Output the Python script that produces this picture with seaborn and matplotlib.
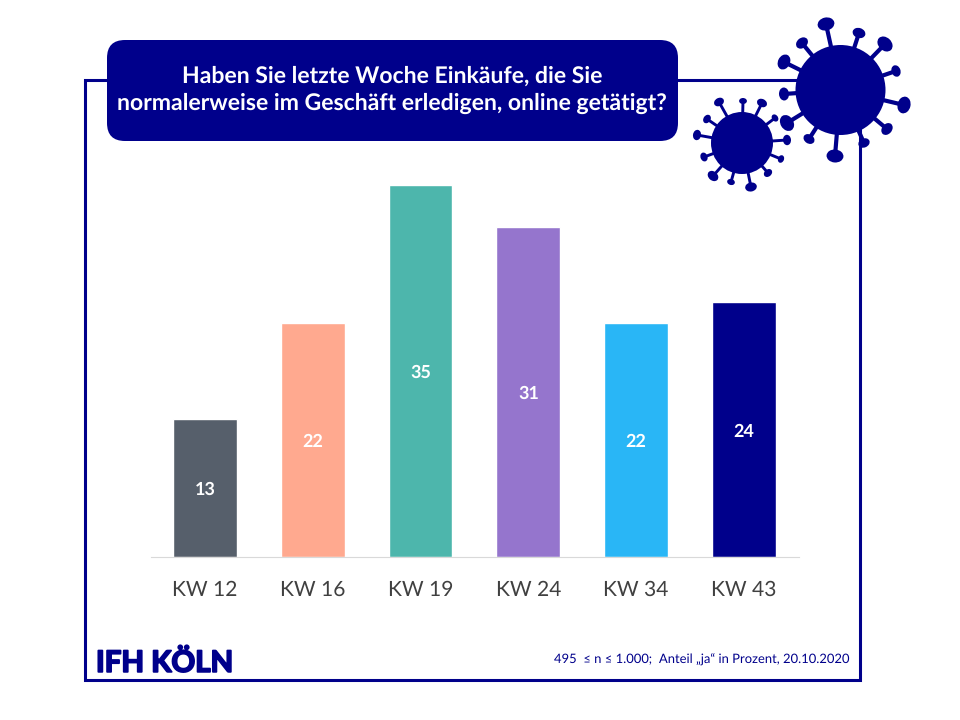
import matplotlib
matplotlib.use("Agg")
import matplotlib.pyplot as plt
import matplotlib.patheffects as pe
from matplotlib.patches import Circle, FancyBboxPatch, Rectangle, Ellipse
import seaborn as sns
import pandas as pd
import numpy as np

weeks = ["KW 12", "KW 16", "KW 19", "KW 24", "KW 34", "KW 43"]
shares = [13, 22, 35, 31, 22, 24]
bar_colors = ["#565F6B", "#FFA98F", "#4DB6AC", "#9575CD", "#29B6F6", "#00008B"]
title_text = "Haben Sie letzte Woche Einkäufe, die Sie\nnormalerweise im Geschäft erledigen, online getätigt?"
note_text = "495  ≤ n ≤ 1.000;  Anteil „ja“ in Prozent, 20.10.2020"
logo_text = "IFH KÖLN"
NAVY = "#00008B"

sns.set_theme(style="white")
plt.rcParams["font.family"] = ["Lato", "DejaVu Sans"]
plt.rcParams["text.hinting"] = "no_hinting"
plt.rcParams["text.hinting_factor"] = 1

W, H = 960, 720
fig = plt.figure(figsize=(9.6, 7.2), dpi=100, facecolor="white")

# decoration layer in pixel coordinates
deco = fig.add_axes([0, 0, 1, 1], zorder=0)
deco.set_xlim(0, W); deco.set_ylim(H, 0); deco.axis("off")
deco.add_patch(Rectangle((85, 80), 775, 600, fill=False, ec=NAVY, lw=2.2))

# chart
ax = fig.add_axes([151 / W, (H - 557) / H, 648 / W, 424 / H], zorder=1)
ax.patch.set_alpha(0)
df = pd.DataFrame({"week": weeks, "share": shares})
sns.barplot(data=df, x="week", y="share", hue="week", palette=bar_colors,
            order=weeks, hue_order=weeks, width=0.592, saturation=1,
            legend=False, ax=ax)
ax.set_ylim(0, 39.85)
ax.set_xlim(-0.5, 5.51)
ax.set_xlabel(""); ax.set_ylabel("")
ax.set_yticks([])
for s in ["top", "left", "right"]:
    ax.spines[s].set_visible(False)
ax.spines["bottom"].set_color("#D9D9D9")
ax.spines["bottom"].set_linewidth(0.8)
ax.tick_params(axis="x", length=0, pad=28, labelsize=14.8, labelcolor="#404040")
for lab in ax.get_xticklabels():
    lab.set_verticalalignment("baseline")
for i, v in enumerate(shares):
    ax.annotate(str(v), xy=(i, v / 2), xytext=(0, -5.2), textcoords="offset points",
                ha="center", va="baseline", color="white", fontsize=13, fontweight="bold")

# overlay layer
top = fig.add_axes([0, 0, 1, 1], zorder=2)
top.set_xlim(0, W); top.set_ylim(H, 0); top.axis("off")
top.add_patch(FancyBboxPatch((107 + 18, 40 + 18), 571 - 36, 101 - 36,
                             boxstyle="round,pad=18,rounding_size=18",
                             fc=NAVY, ec="none"))
top.text(392, 90, title_text, ha="center", va="center", color="white",
         fontsize=16.35, fontweight="bold", linespacing=1.39)
top.text(96, 663.5, logo_text, ha="left", va="center", color=NAVY,
         fontsize=21.2, fontweight="bold",
         path_effects=[pe.withStroke(linewidth=1.3, foreground=NAVY)])
top.text(850, 660, note_text, ha="right", va="center", color=NAVY, fontsize=9.35)

def virus(cx, cy, r, knobs, lw):
    top.add_patch(Circle((cx, cy), r, fc=NAVY, ec="none", zorder=5))
    for kx, ky, ks in knobs:
        top.plot([cx, kx], [cy, ky], color=NAVY, lw=lw, zorder=4, solid_capstyle="round")
        top.add_patch(Ellipse((kx, ky), ks * 1.3, ks, fc=NAVY, ec="none", zorder=4,
                              angle=np.degrees(np.arctan2(ky - cy, kx - cx)) + 90))

big = [(826, 24, 13), (859, 33, 10), (885, 44, 13), (896, 71, 9), (904, 105, 13),
       (887, 129, 10), (864, 143, 9), (835, 156, 13), (809, 139, 9), (787, 123, 13),
       (784, 94, 10), (784, 62, 12), (802, 43, 10)]
small = [(719, 102, 8), (743, 101, 6), (762, 103, 8), (775, 118, 6), (787, 140, 8),
         (781, 159, 6), (768, 173, 7), (751, 187, 9), (731, 182, 6), (713, 176, 9),
         (704, 157, 7), (697, 135, 8), (707, 119, 7)]
virus(840.5, 90, 45, big, 3.0)
virus(742, 143, 31, small, 2.1)

fig.savefig("out.png", dpi=100)
